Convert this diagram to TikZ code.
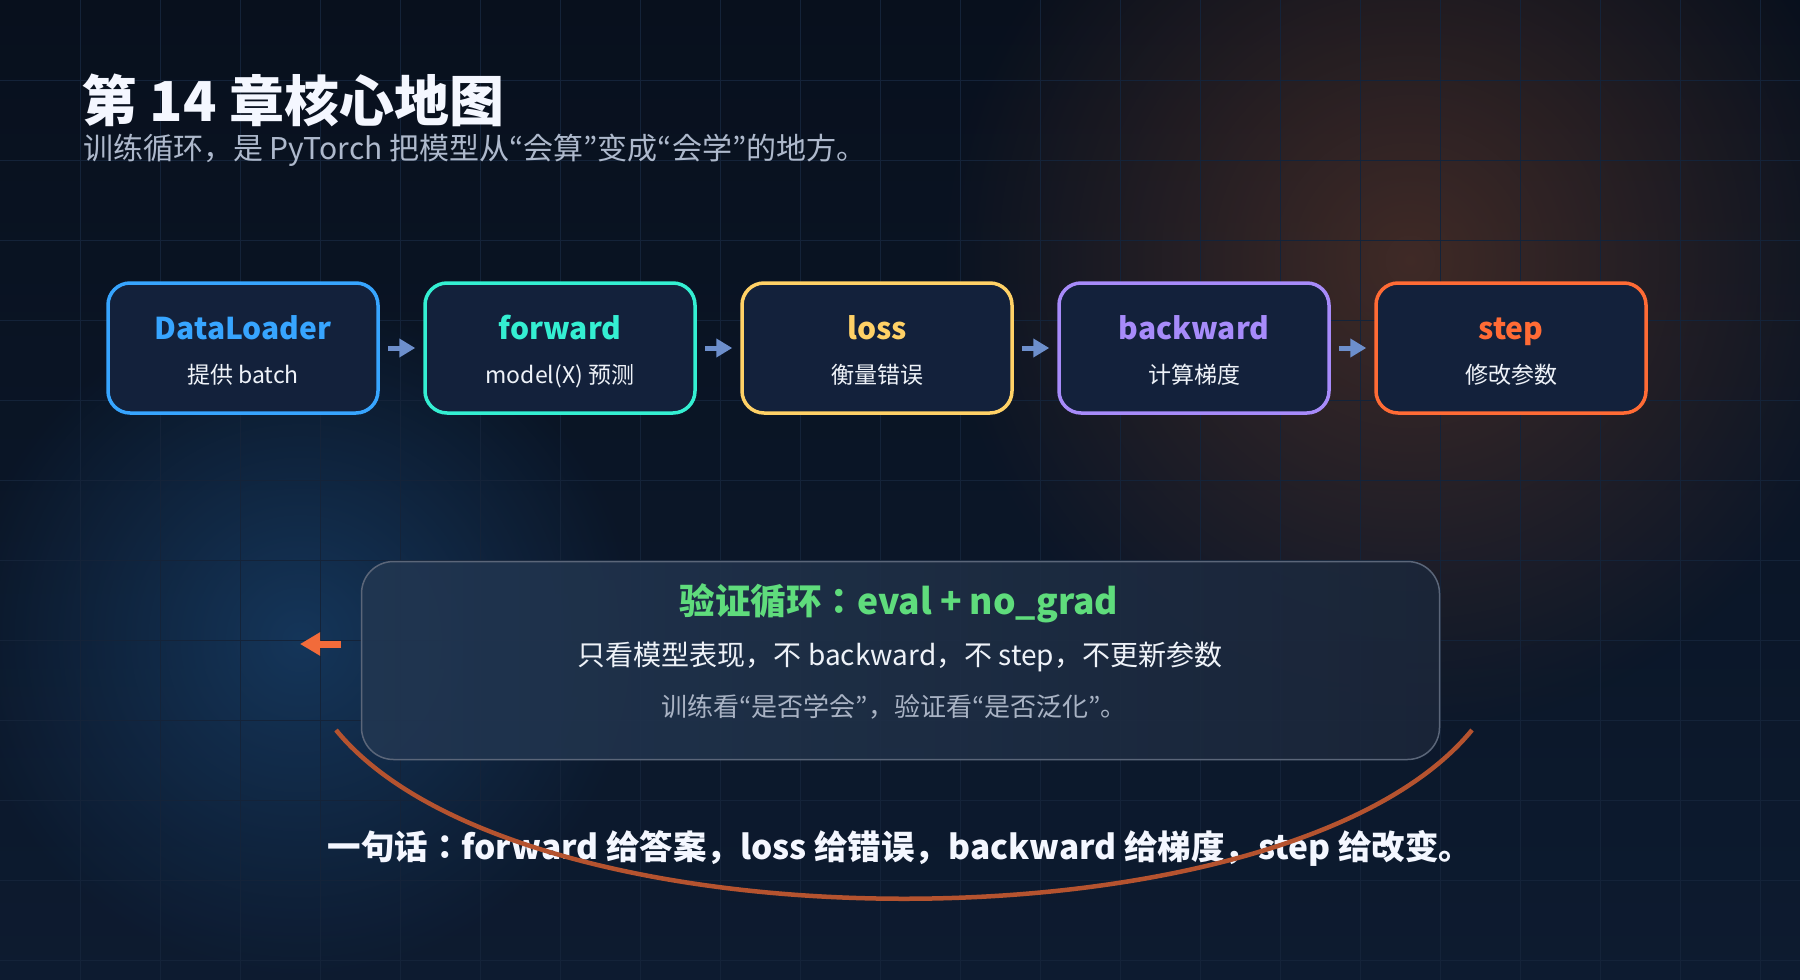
\documentclass[tikz,border=0pt]{standalone}
\usepackage{fontspec}
\setmainfont{Noto Sans CJK JP}
\usetikzlibrary{arrows.meta,fadings}
\definecolor{bgtop}{HTML}{08101D}
\definecolor{bgbot}{HTML}{0D1B30}
\definecolor{gridc}{HTML}{142339}
\definecolor{glowor}{HTML}{573428}
\definecolor{glowbl}{HTML}{16395F}
\definecolor{boxfill}{HTML}{13213B}
\definecolor{cblue}{HTML}{37A5FF}
\definecolor{cteal}{HTML}{34EFD2}
\definecolor{cyellow}{HTML}{FFD166}
\definecolor{cpurple}{HTML}{A78BFA}
\definecolor{corange}{HTML}{FF6B35}
\definecolor{flowc}{HTML}{6D8FCC}
\definecolor{backc}{HTML}{F26B3A}
\definecolor{arcc}{HTML}{B5532F}
\definecolor{valleft}{HTML}{213651}
\definecolor{valright}{HTML}{1B2639}
\definecolor{valborder}{HTML}{5B6679}
\definecolor{cgreen}{HTML}{5FDC7C}
\definecolor{titlec}{HTML}{F4F7FF}
\definecolor{subc}{HTML}{AEB9CC}
\definecolor{textc}{HTML}{EEF2F8}
\definecolor{mutec}{HTML}{A9B3C4}
\tikzfading[name=glowfade, inner color=transparent!0, outer color=transparent!100]
\tikzset{
  stagebox/.style={draw, line width=3.5, rounded corners=22, fill=boxfill,
    minimum width=270, minimum height=130, inner sep=0},
  stagetitle/.style={anchor=base, font=\fontsize{30}{34}\selectfont\bfseries, inner sep=0},
  stagesub/.style={anchor=base, font=\fontsize{23}{27}\selectfont, text=textc, inner sep=0},
  flow/.style={draw=flowc, line width=5, -{Triangle[length=16,width=18]},
    shorten <=8, shorten >=8},
  backflow/.style={draw=backc, line width=7, -{Triangle[length=20,width=22]}},
  valbox/.style={draw=valborder, line width=1.5, rounded corners=32,
    left color=valleft, right color=valright, fill opacity=0.92,
    minimum width=1078, minimum height=198, inner sep=0},
  arcline/.style={draw=arcc, line width=4.5},
}
\begin{document}
\begin{tikzpicture}[x=1pt,y=-1pt]
\useasboundingbox (0,0) rectangle (1800,980);
% background
\shade[top color=bgtop, bottom color=bgbot] (0,0) rectangle (1800,980);
\fill[glowbl, path fading=glowfade, fill opacity=0.9] (300,640) circle (340);
\fill[glowor, path fading=glowfade, fill opacity=0.7] (1410,260) circle (470);
\foreach \gx in {80,160,...,1760} \draw[gridc, line width=1] (\gx,0) -- (\gx,980);
\foreach \gy in {80,160,...,960} \draw[gridc, line width=1] (0,\gy) -- (1800,\gy);

% title
\node[anchor=base west, inner sep=0, text=titlec, font=\fontsize{55}{60}\selectfont\bfseries] (title) at (82,121) {第 14 章核心地图};
\node[anchor=base west, inner sep=0, text=subc, font=\fontsize{30}{34}\selectfont] (subtitle) at (83,159) {训练循环，是 PyTorch 把模型从“会算”变成“会学”的地方。};

% stages
\node[stagebox, draw=cblue] (dl) at (243,348) {};
\node[stagebox, draw=cteal] (fw) at (560,348) {};
\node[stagebox, draw=cyellow] (ls) at (877,348) {};
\node[stagebox, draw=cpurple] (bw) at (1194,348) {};
\node[stagebox, draw=corange] (st) at (1511,348) {};

\node[stagetitle, text=cblue] (dlt) at (243,339) {DataLoader};
\node[stagesub] (dls) at (243,383) {提供 batch};
\node[stagetitle, text=cteal] (fwt) at (560,339) {forward};
\node[stagesub] (fws) at (560,383) {model(X) 预测};
\node[stagetitle, text=cyellow] (lst) at (877,339) {loss};
\node[stagesub] (lss) at (877,383) {衡量错误};
\node[stagetitle, text=cpurple] (bwt) at (1194,339) {backward};
\node[stagesub] (bws) at (1194,383) {计算梯度};
\node[stagetitle, text=corange] (stt) at (1511,339) {step};
\node[stagesub] (sts) at (1511,383) {修改参数};

\draw[flow] (dl.east) -- (fw.west);
\draw[flow] (fw.east) -- (ls.west);
\draw[flow] (ls.east) -- (bw.west);
\draw[flow] (bw.east) -- (st.west);

% validation box
\node[valbox] (val) at (900.5,660.5) {};
\node[inner sep=0, text=cgreen, font=\fontsize{35.5}{40}\selectfont\bfseries] (valt) at (899,603) {验证循环：eval + no\_grad};
\node[inner sep=0, text=textc, font=\fontsize{28}{32}\selectfont] (vall) at (900,657) {只看模型表现，不 backward，不 step，不更新参数};
\node[inner sep=0, text=mutec, font=\fontsize{26}{30}\selectfont] (valm) at (894,707) {训练看“是否学会”，验证看“是否泛化”。};

% back arrow
\coordinate (bstart) at (341,644);
\coordinate (bend) at (300,644);
\draw[backflow] (bstart) -- (bend);

% summary
\node[inner sep=0, text=titlec, font=\fontsize{33.5}{38}\selectfont\bfseries] (sum) at (900,848) {一句话：forward 给答案，loss 给错误，backward 给梯度，step 给改变。};

% arc
\coordinate (arcL) at (336,730);
\coordinate (arcR) at (1472,730);
\draw[arcline] (arcL) .. controls (520,955) and (1288,955) .. (arcR);
\end{tikzpicture}
\end{document}
